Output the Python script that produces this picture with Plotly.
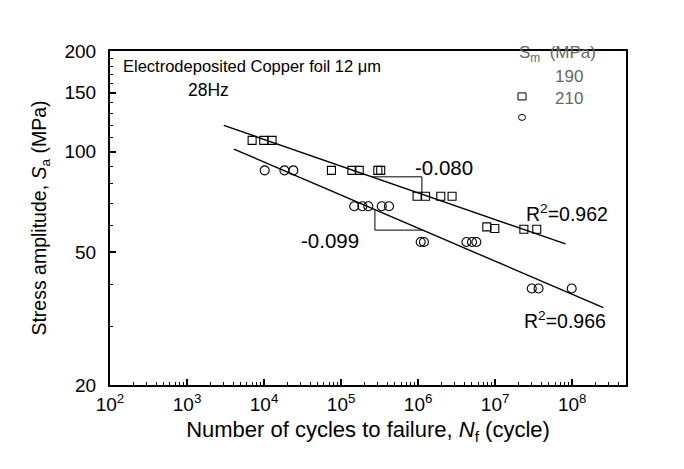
import numpy as np
import plotly.graph_objects as go

# ---------------- data ----------------
n_190 = [7.0e3, 9.9e3, 1.27e4, 7.5e4, 1.38e5, 1.72e5, 3.0e5, 3.27e5,
         9.7e5, 1.25e6, 1.97e6, 2.76e6, 7.8e6, 9.9e6, 2.36e7, 3.47e7]
s_190 = [108, 108, 108, 87.8, 87.8, 87.8, 87.8, 87.8,
         73.5, 73.5, 73.5, 73.5, 59.5, 58.8, 58.5, 58.5]

n_210 = [1.02e4, 1.84e4, 2.40e4, 1.48e5, 1.89e5, 2.26e5, 3.37e5, 4.19e5,
         1.08e6, 1.19e6, 4.24e6, 5.01e6, 5.71e6, 2.99e7, 3.66e7, 9.86e7]
s_210 = [87.8, 87.8, 87.8, 68.6, 68.6, 68.6, 68.6, 68.6,
         53.6, 53.6, 53.6, 53.6, 53.6, 38.9, 38.9, 38.9]

# Basquin fits  S = A * N^b
fit_190_A, fit_190_b = 227.2, -0.080
fit_210_A, fit_210_b = 231.6, -0.099
fit_190_range = [3.0e3, 8.2e7]
fit_210_range = [4.06e3, 2.54e8]
tri_190_n = [2.52e5, 1.12e6]
tri_210_n = [2.75e5, 1.15e6]

x_tick_vals = [1e2, 1e3, 1e4, 1e5, 1e6, 1e7, 1e8]
x_tick_text = ["10<sup>2</sup>", "10<sup>3</sup>", "10<sup>4</sup>", "10<sup>5</sup>",
               "10<sup>6</sup>", "10<sup>7</sup>", "10<sup>8</sup>"]
y_tick_vals = [20, 50, 100, 150, 200]
y_tick_text = ["20", "50", "100", "150", "200"]
# ---------------------------------------------------------------

def basquin(A, b, n):
    n = np.asarray(n, dtype=float)
    return A * n ** b

FONT = "Arial, Liberation Sans, sans-serif"
fig = go.Figure()

# fit lines
for A, b, rng in [(fit_190_A, fit_190_b, fit_190_range), (fit_210_A, fit_210_b, fit_210_range)]:
    fig.add_trace(go.Scatter(x=rng, y=basquin(A, b, rng), mode="lines",
                             line=dict(color="black", width=1.4), showlegend=False,
                             hoverinfo="skip"))

# slope triangles
n1, n2 = tri_190_n
s1, s2 = basquin(fit_190_A, fit_190_b, [n1, n2])
fig.add_trace(go.Scatter(x=[n1, n2, n2], y=[s1, s1, s2], mode="lines",
                         line=dict(color="black", width=1), showlegend=False))
n1, n2 = tri_210_n
s1, s2 = basquin(fit_210_A, fit_210_b, [n1, n2])
fig.add_trace(go.Scatter(x=[n1, n1, n2], y=[s1, s2, s2], mode="lines",
                         line=dict(color="black", width=1), showlegend=False))

# data points
fig.add_trace(go.Scatter(x=n_190, y=s_190, mode="markers", name="190",
                         marker=dict(symbol="square-open", size=8, color="black",
                                     line=dict(width=1.1)), showlegend=False))
fig.add_trace(go.Scatter(x=n_210, y=s_210, mode="markers", name="210",
                         marker=dict(symbol="circle-open", size=9, color="black",
                                     line=dict(width=1.1)), showlegend=False))

# page geometry (page has an 8 px body margin)
OFF = 8
L, R, T, B = 110, 626, 50.5, 385          # plot area in page pixels
W, H = 684 - 2 * OFF, 469 - 2 * OFF
def px(x):
    return (x - L) / (R - L)
def py(y):
    return (B - y) / (B - T)

ann = []
def text(x, y, s, size, xanchor="center", color="black"):
    ann.append(dict(x=px(x), y=py(y), xref="paper", yref="paper", text=s,
                    showarrow=False, xanchor=xanchor, yanchor="middle",
                    font=dict(family=FONT, size=size, color=color)))

text(121, 66, "Electrodeposited Copper foil 12 \u03bcm", 16.5, "left")
text(208, 90, "28Hz", 17.5)
text(444, 167, "-0.080", 20.5)
text(330, 240, "-0.099", 20.5)
text(524, 213, "R<sup>2</sup>=0.962", 19.5, "left")
text(522, 320, "R<sup>2</sup>=0.966", 19.5, "left")
text(517, 54, "S<sub>m</sub>  (MPa)", 17, "left", "#666666")
text(569, 76, "190", 17, "center", "#666666")
text(569, 98, "210", 17, "center", "#666666")

shapes = [
    dict(type="rect", xref="paper", yref="paper", xsizemode="pixel", ysizemode="pixel",
         xanchor=px(522), yanchor=py(96), x0=-4, x1=4, y0=-3.5, y1=3.5,
         line=dict(color="black", width=1)),
    dict(type="circle", xref="paper", yref="paper", xsizemode="pixel", ysizemode="pixel",
         xanchor=px(522), yanchor=py(117), x0=-3.5, x1=3.5, y0=-3, y1=3,
         line=dict(color="black", width=1)),
]

x_minor = [m * 10 ** e for e in range(2, 9) for m in range(2, 10) if m * 10 ** e < 5e8]
y_minor = [30, 40, 60, 70, 80, 90, 110, 120, 130, 140, 160, 170, 180, 190]

fig.update_layout(
    width=W, height=H,
    margin=dict(l=L - OFF, r=W - (R - OFF), t=T - OFF, b=H - (B - OFF)),
    paper_bgcolor="white", plot_bgcolor="white",
    font=dict(family=FONT, color="black"),
    annotations=ann, shapes=shapes,
    xaxis=dict(type="log", range=[2, np.log10(5e8)], showgrid=False, zeroline=False,
               showline=True, linecolor="black", linewidth=2, mirror=True,
               ticks="inside", ticklen=6, tickwidth=1.5, tickcolor="black",
               tickvals=x_tick_vals, ticktext=x_tick_text,
               tickfont=dict(size=19, family=FONT), ticklabelstandoff=1,
               minor=dict(tickvals=x_minor, ticks="inside", ticklen=3, tickwidth=1.2,
                          tickcolor="black", showgrid=False),
               title=dict(text="Number of cycles to failure, <i>N</i><sub>f</sub> (cycle)",
                          font=dict(size=22, family=FONT), standoff=8)),
    yaxis=dict(type="log", range=[np.log10(20), np.log10(200)], showgrid=False, zeroline=False,
               showline=True, linecolor="black", linewidth=2, mirror=True,
               ticks="inside", ticklen=6, tickwidth=1.5, tickcolor="black",
               tickvals=y_tick_vals, ticktext=y_tick_text,
               tickfont=dict(size=19, family=FONT), ticklabelstandoff=8,
               minor=dict(tickvals=y_minor, ticks="inside", ticklen=3, tickwidth=1.2,
                          tickcolor="black", showgrid=False),
               title=dict(text="Stress amplitude, <i>S</i><sub>a</sub> (MPa)",
                          font=dict(size=19.5, family=FONT), standoff=13)),
)

fig.write_html("out.html")
